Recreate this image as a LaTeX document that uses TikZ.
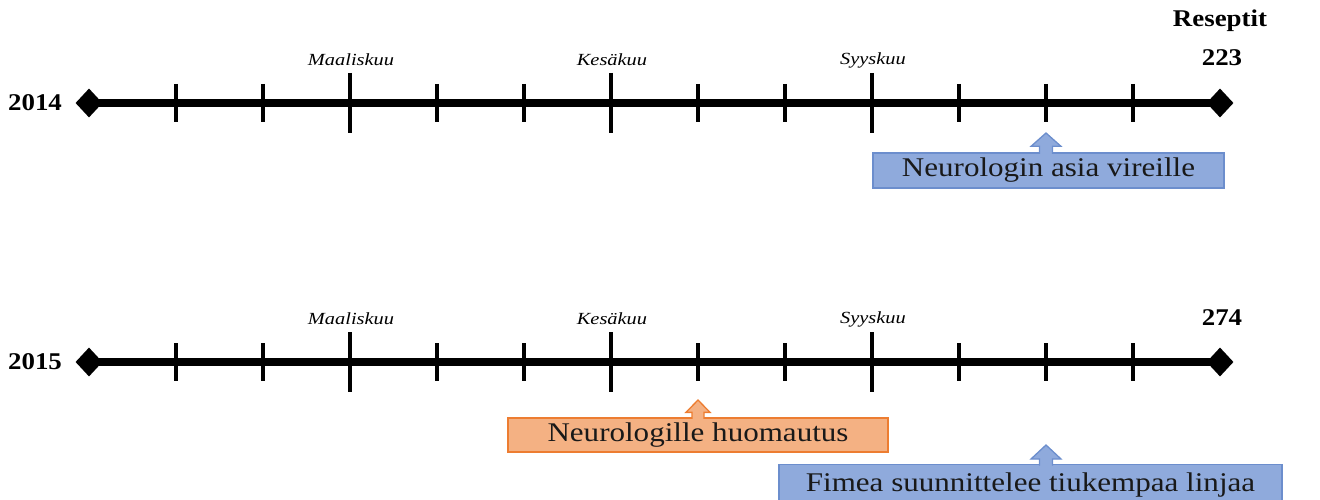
\documentclass[tikz,border=0pt]{standalone}
\usepackage{fontspec}
\setmainfont{Liberation Serif}
\newfontfamily\boxfont[FakeStretch=1.15]{Liberation Serif}
\newfontfamily\labelfont[FakeStretch=1.12]{Liberation Serif Bold}
\newfontfamily\monthfont[FakeStretch=1.2]{Liberation Serif Italic}
\usetikzlibrary{shapes.geometric}

\definecolor{calblue}{RGB}{143,170,220}
\definecolor{caledgeblue}{RGB}{108,142,205}
\definecolor{calorange}{RGB}{244,177,131}
\definecolor{caledgeorange}{RGB}{237,125,49}

\tikzset{
  axisline/.style={line width=8pt},
  tickmark/.style={line width=3.6pt},
  endpoint/.style={diamond, fill=black, inner sep=0pt, minimum width=27pt, minimum height=29pt},
  yearlabel/.style={font=\labelfont\fontsize{24}{27}\selectfont, inner sep=0pt},
  monthlabel/.style={font=\monthfont\fontsize{17}{19}\selectfont, inner sep=0pt},
  eventbox/.style={draw=#1, line width=1.3pt, inner sep=0pt, font=\boxfont\fontsize{27}{30}\selectfont, text=black!90},
  callout/.style={draw=#1, line width=1.3pt, line join=miter},
}

\begin{document}
\begin{tikzpicture}[x=1pt, y=-1pt]
\useasboundingbox (0,0) rectangle (1320,500);
\clip (0,0) rectangle (1320,500);

% ---- 2014 ----
\node[endpoint] (a0) at (89,103) {};
\node[endpoint] (a13) at (1220,103) {};
\draw[axisline] (a0.center) -- (a13.center);
\foreach \k in {1,...,12} {
  \coordinate (a\k) at ({89+87*\k},103);
}
\foreach \k in {1,2,4,5,7,8,10,11,12}
  \draw[tickmark] ([yshift=19pt]a\k) -- ([yshift=-19pt]a\k);
\foreach \k in {3,6,9}
  \draw[tickmark] ([yshift=30pt]a\k) -- ([yshift=-30pt]a\k);

\node[yearlabel] (y14) at (35,103) {2014};
\node[yearlabel] (res) at (1220,21) {Reseptit};
\node[yearlabel] (n14) at (1222,58) {223};
\node[monthlabel] (m14a) at (351,60) {Maaliskuu};
\node[monthlabel] (m14b) at (612,60) {Kesäkuu};
\node[monthlabel] (m14c) at (873,60) {Syyskuu};

\node[eventbox=caledgeblue, fill=calblue, minimum width=351pt, minimum height=35pt]
  (e1) at (1048.5,170.5) {Neurologin asia vireille};
% up-arrow callout: shaft from the box top, head pointing at the tick
\filldraw[fill=calblue, callout=caledgeblue]
  ([xshift=-6.5pt, yshift=-1.5pt]a11 |- e1.north) -- ([xshift=-6.5pt, yshift=6pt]a11 |- e1.north)
  -- ([xshift=-15pt, yshift=6pt]a11 |- e1.north) -- (a11 |- 0,133)
  -- ([xshift=15pt, yshift=6pt]a11 |- e1.north) -- ([xshift=6.5pt, yshift=6pt]a11 |- e1.north)
  -- ([xshift=6.5pt, yshift=-1.5pt]a11 |- e1.north);

% ---- 2015 ----
\node[endpoint] (b0) at (89,362) {};
\node[endpoint] (b13) at (1220,362) {};
\draw[axisline] (b0.center) -- (b13.center);
\foreach \k in {1,...,12} {
  \coordinate (b\k) at ({89+87*\k},362);
}
\foreach \k in {1,2,4,5,7,8,10,11,12}
  \draw[tickmark] ([yshift=19pt]b\k) -- ([yshift=-19pt]b\k);
\foreach \k in {3,6,9}
  \draw[tickmark] ([yshift=30pt]b\k) -- ([yshift=-30pt]b\k);

\node[yearlabel] (y15) at (35,362) {2015};
\node[yearlabel] (n15) at (1222,318) {274};
\node[monthlabel] (m15a) at (351,319) {Maaliskuu};
\node[monthlabel] (m15b) at (612,319) {Kesäkuu};
\node[monthlabel] (m15c) at (873,319) {Syyskuu};

\node[eventbox=caledgeorange, fill=calorange, minimum width=380pt, minimum height=34pt]
  (e2) at (698,435) {Neurologille huomautus};
\filldraw[fill=calorange, callout=caledgeorange]
  ([xshift=-6pt, yshift=-1.5pt]b7 |- e2.north) -- ([xshift=-6pt, yshift=5pt]b7 |- e2.north)
  -- ([xshift=-12pt, yshift=5pt]b7 |- e2.north) -- (b7 |- 0,400)
  -- ([xshift=12pt, yshift=5pt]b7 |- e2.north) -- ([xshift=6pt, yshift=5pt]b7 |- e2.north)
  -- ([xshift=6pt, yshift=-1.5pt]b7 |- e2.north);

\node[eventbox=caledgeblue, fill=calblue, minimum width=503pt, minimum height=40pt, anchor=north]
  (e3) at (1030.5,464) {Fimea suunnittelee tiukempaa linjaa};
\filldraw[fill=calblue, callout=caledgeblue]
  ([xshift=-6.5pt, yshift=-1.5pt]b11 |- e3.north) -- ([xshift=-6.5pt, yshift=5pt]b11 |- e3.north)
  -- ([xshift=-15pt, yshift=5pt]b11 |- e3.north) -- (b11 |- 0,445)
  -- ([xshift=15pt, yshift=5pt]b11 |- e3.north) -- ([xshift=6.5pt, yshift=5pt]b11 |- e3.north)
  -- ([xshift=6.5pt, yshift=-1.5pt]b11 |- e3.north);
\end{tikzpicture}
\end{document}
